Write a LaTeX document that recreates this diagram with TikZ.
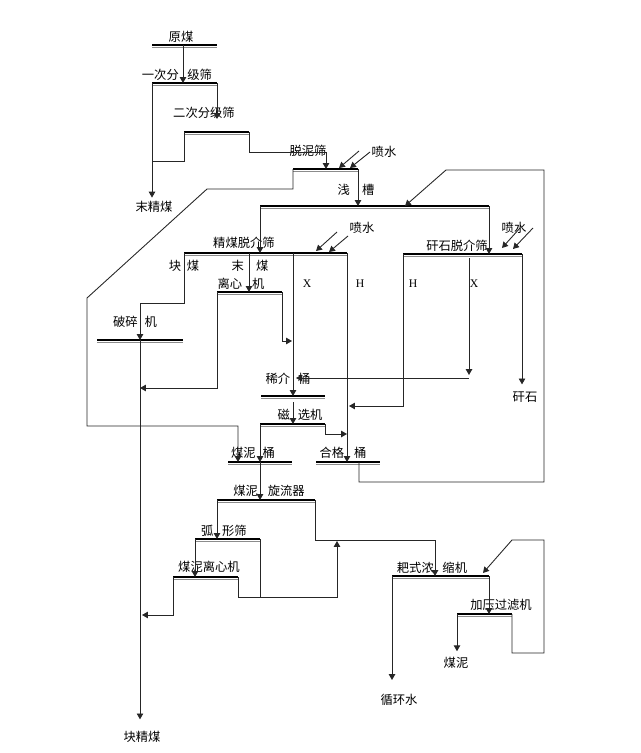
\documentclass[tikz,border=0pt]{standalone}
\usepackage{fontspec}
\setmainfont{Liberation Serif}
\newfontfamily\cjk{Noto Sans CJK SC}
\usetikzlibrary{arrows.meta}
\tikzset{
  eqbar/.style={line width=2.5pt, black},
  eqbase/.style={line width=0.9pt, black!45},
  flow/.style={line width=0.75pt, black!85},
  arr/.style={flow, -{Triangle[length=5pt,width=5.5pt]}},
  lab/.style={font=\cjk\fontsize{10.5}{12}\selectfont, inner sep=0pt},
  xh/.style={font=\fontsize{10}{12}\selectfont, inner sep=0pt},
}

\begin{document}
\begin{tikzpicture}[x=0.03cm,y=-0.03cm]
    \useasboundingbox (0,0) rectangle (640,753);

    \coordinate (ym-l) at (152,45);  \coordinate (ym-r) at (217,45);
    \coordinate (s1-l) at (152,83);  \coordinate (s1-r) at (217,83);
    \coordinate (s2-l) at (184,132); \coordinate (s2-r) at (249,132);
    \coordinate (tn-l) at (293,169); \coordinate (tn-r) at (358,169);
    \coordinate (qc-l) at (260,206); \coordinate (qc-r) at (489,206);
    \coordinate (jm-l) at (184,253); \coordinate (jm-r) at (347,253);
    \coordinate (gs-l) at (403,254); \coordinate (gs-r) at (522,254);
    \coordinate (lx-l) at (217,292); \coordinate (lx-r) at (282,292);
    \coordinate (ps-l) at (97,340);  \coordinate (ps-r) at (183,340);
    \coordinate (xj-l) at (261,396); \coordinate (xj-r) at (325,396);
    \coordinate (cx-l) at (260,424); \coordinate (cx-r) at (325,424);
    \coordinate (mn-l) at (228,462); \coordinate (mn-r) at (292,462);
    \coordinate (hg-l) at (316,462); \coordinate (hg-r) at (380,462);
    \coordinate (xl-l) at (217,500); \coordinate (xl-r) at (315,500);
    \coordinate (hx-l) at (195,539); \coordinate (hx-r) at (260,539);
    \coordinate (ml-l) at (173,577); \coordinate (ml-r) at (238,577);
    \coordinate (ns-l) at (392,576); \coordinate (ns-r) at (489,576);
    \coordinate (gl-l) at (457,614); \coordinate (gl-r) at (512,614);

    \coordinate (ym-o) at (183,45);
    \coordinate (tn-a) at (326,169);
    \coordinate (tn-w1) at (339,168);
    \coordinate (tn-w2) at (350,168);
    \coordinate (qc-a) at (405,206);
    \coordinate (jm-m) at (249,253);
    \coordinate (jm-x) at (293,253);
    \coordinate (jm-w1) at (316,251);
    \coordinate (jm-w2) at (329,252);
    \coordinate (gs-x) at (469,258);
    \coordinate (gs-w1) at (502,248);
    \coordinate (gs-w2) at (513,249);
    \coordinate (ps-a) at (140,340);
    \coordinate (xj-a) at (296,378);
    \coordinate (mn-a) at (238,462);
    \coordinate (mn-o) at (260,462);
    \coordinate (hg-o) at (359,462);
    \coordinate (ns-a) at (435,576);
    \coordinate (ns-b) at (483,573);

    \foreach \b in {ym,s1,s2,tn,qc,jm,gs,lx,ps,xj,cx,mn,hg,xl,hx,ml,ns,gl}{
        \draw[eqbar] (\b-l) -- (\b-r);
        \draw[eqbase] ([yshift=-2.1pt]\b-l) -- ([yshift=-2.1pt]\b-r);
    }

    \node[lab] (t-ym) at (181,37) {原煤};
    \node[lab] (t-s1) at (177,75) {一次分\hspace{0.7em}级筛};
    \node[lab] (t-s2) at (204,113) {二次分级筛};
    \node[lab] (t-tn) at (308,151) {脱泥筛};
    \node[lab] (t-pw1) at (384,152) {喷水};
    \node[lab] (t-qc) at (356,190) {浅\hspace{1em}槽};
    \node[lab] (t-mjm) at (154,207) {末精煤};
    \node[lab] (t-pw2) at (362,228) {喷水};
    \node[lab] (t-jm) at (244,243) {精煤脱介筛};
    \node[lab] (t-kuai) at (184,266) {块\hspace{0.45em}煤};
    \node[lab] (t-mo) at (250,266) {末\hspace{1em}煤};
    \node[lab] (t-lx) at (241,284) {离心\hspace{0.8em}机};
    \node[xh] (t-x1) at (307,284) {X};
    \node[xh] (t-h1) at (360,284) {H};
    \node[xh] (t-h2) at (413,284) {H};
    \node[xh] (t-x2) at (474,284) {X};
    \node[lab] (t-ps) at (135,322) {破碎\hspace{0.55em}机};
    \node[lab] (t-gs) at (457,246) {矸石脱介筛};
    \node[lab] (t-pw3) at (514,228) {喷水};
    \node[lab] (t-gst) at (525,397) {矸石};
    \node[lab] (t-xj) at (288,379) {稀介\hspace{0.65em}桶};
    \node[lab] (t-cx) at (300,415) {磁\hspace{0.65em}选机};
    \node[lab] (t-mn) at (253,453) {煤泥\hspace{0.55em}桶};
    \node[lab] (t-hg) at (343,453) {合格\hspace{0.8em}桶};
    \node[lab] (t-xl) at (269,491) {煤泥\hspace{0.8em}旋流器};
    \node[lab] (t-hx) at (224,531) {弧\hspace{0.7em}形筛};
    \node[lab] (t-ml) at (209,567) {煤泥离心机};
    \node[lab] (t-kjm) at (142,737) {块精煤};
    \node[lab] (t-ns) at (432,568) {耙式浓\hspace{0.7em}缩机};
    \node[lab] (t-gl) at (501,605) {加压过滤机};
    \node[lab] (t-mn2) at (456,663) {煤泥};
    \node[lab] (t-xhs) at (399,700) {循环水};

    \draw[arr] (ym-o) -- (ym-o |- s1-l);
    \draw[arr, shorten >=3pt] (s1-l) -- (s1-l |- t-mjm.north);
    \draw[arr] (s1-r) -- (s1-r |- t-s2.south);
    \draw[flow] (s2-l) |- ++(-32,29);
    \draw[arr] (s2-r) |- ++(77,20) -- (tn-a);
    \draw[arr] (tn-w1) ++(20,-17) -- (tn-w1);
    \draw[arr] (tn-w2) ++(20,-16) -- (tn-w2);
    \draw[arr] (tn-l) |- (207,189) -- (87,298) |- (238,426) -- (mn-a);
    \draw[arr] (tn-r) -- (tn-r |- qc-l);
    \draw[arr] (qc-l) -- (qc-l |- jm-l);
    \draw[arr] (qc-r) -- (qc-r |- gs-l);
    \draw[arr] (hg-o) |- (544,482) |- (446,170) -- (qc-a);
    \draw[arr] (jm-w1) ++(21,-19) -- (jm-w1);
    \draw[arr] (jm-w2) ++(19,-16) -- (jm-w2);
    \draw[arr] (gs-w1) ++(18,-20) -- (gs-w1);
    \draw[arr] (gs-w2) ++(20,-21) -- (gs-w2);
    \draw[arr] (jm-l) |- ++(-44,50) -- (ps-a);
    \draw[arr] (jm-m) -- (jm-m |- lx-l);
    \draw[arr] (jm-x) -- (jm-x |- xj-l);
    \draw[arr] (jm-r) -- (jm-r |- hg-l);
    \draw[arr] (lx-l) |- ++(-77,96);
    \draw[arr] (lx-r) |- ++(10,49);
    \draw[arr, shorten >=10pt] (ps-a) -- (ps-a |- t-kjm.north);
    \draw[arr] (gs-l) |- ++(-54,152);
    \draw[arr] (gs-x) -- ++(0,117);
    \draw[arr] (gs-x |- xj-a) -- (xj-a);
    \draw[arr, shorten >=6pt] (gs-r) -- (gs-r |- t-gst.north);
    \draw[arr] (jm-x |- xj-l) ++(0,6) -- (jm-x |- cx-l);
    \draw[arr] (cx-l) -- (cx-l |- mn-l);
    \draw[arr] (cx-r) |- ++(22,10);
    \draw[arr] (mn-o) -- (mn-o |- xl-l);
    \draw[arr] (xl-l) -- (xl-l |- hx-l);
    \draw[arr] (xl-r) |- ++(120,40) -- (ns-a);
    \draw[arr] (hx-l) -- (hx-l |- ml-l);
    \draw[flow] (hx-r) -- ++(0,58);
    \draw[arr] (ml-r) |- ++(99,20) -- ++(0,-56);
    \draw[arr] (ml-l) |- ++(-31,38);
    \draw[arr, shorten >=12pt] (ns-l) -- (ns-l |- t-xhs.north);
    \draw[arr] (ns-r) -- (ns-r |- gl-l);
    \draw[arr] (gl-r) |- (544,653) |- (512,540) -- (ns-b);
    \draw[arr, shorten >=5pt] (gl-l) -- (gl-l |- t-mn2.north);
\end{tikzpicture}
\end{document}
